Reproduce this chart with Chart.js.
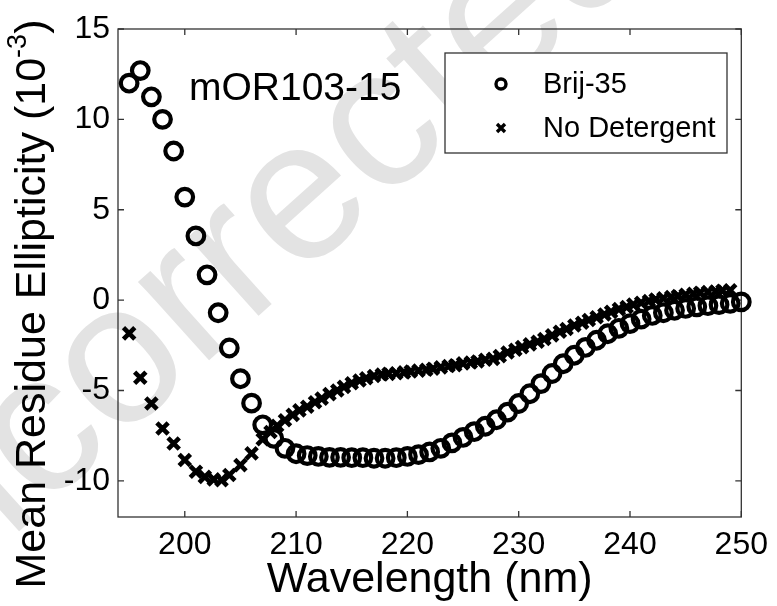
<!DOCTYPE html>
<html>
<head>
<meta charset="utf-8">
<script src="https://cdn.jsdelivr.net/npm/chart.js@4"></script>
<style>
  body { margin: 0; background: #fff; }
  #wrap { width: 777px; height: 606px; }
</style>
</head>
<body>
<div id="wrap"><canvas id="cdChart" width="777" height="606"></canvas></div>
<script>
// Brij-35 spectrum (1 nm steps)
const brijWavelength = [195, 196, 197, 198, 199, 200, 201, 202, 203, 204, 205, 206, 207, 208, 209,
    210, 211, 212, 213, 214, 215, 216, 217, 218, 219, 220, 221, 222, 223, 224, 225, 226, 227, 228, 229,
    230, 231, 232, 233, 234, 235, 236, 237, 238, 239, 240, 241, 242, 243, 244, 245, 246, 247, 248, 249, 250];
const brijValues = [12.0, 12.7, 11.25, 10.0, 8.25, 5.7, 3.55, 1.4, -0.7, -2.65, -4.35, -5.7, -6.9, -7.65, -8.2,
    -8.5, -8.6, -8.65, -8.7, -8.7, -8.72, -8.72, -8.75, -8.75, -8.72, -8.65, -8.55, -8.4, -8.2, -7.9, -7.6, -7.28, -6.98, -6.62, -6.2,
    -5.72, -5.18, -4.62, -4.06, -3.52, -3.05, -2.62, -2.22, -1.86, -1.56, -1.3, -1.05, -0.85, -0.7, -0.56, -0.46, -0.37, -0.31, -0.25, -0.18, -0.1];

// No detergent spectrum
const noDetWavelength = [195, 196, 197, 198, 199, 200, 201, 201.8, 202.6, 203.3, 204, 205, 206,
    207.0, 207.7, 208.3, 209.0, 209.7, 210.3, 211.0, 211.7, 212.3, 213.0, 213.7, 214.3, 215.0, 215.7, 216.3,
    217.0, 217.7, 218.3, 219.0, 219.7, 220.3, 221.0, 221.7, 222.3, 223.0, 223.7, 224.3, 225.0, 225.7, 226.3,
    227.0, 227.7, 228.3, 229.0, 229.7, 230.3, 231.0, 231.7, 232.3, 233.0, 233.7, 234.3, 235.0, 235.7, 236.3,
    237.0, 237.7, 238.3, 239.0, 239.7, 240.3, 241.0, 241.7, 242.3, 243.0, 243.7, 244.3, 245.0, 245.7, 246.3,
    247.0, 247.7, 248.3, 249.0];
const noDetValues = [-1.84, -4.3, -5.72, -7.1, -7.93, -8.85, -9.5, -9.78, -9.92, -9.96, -9.68, -9.13, -8.48,
    -7.7, -7.3, -6.95, -6.65, -6.35, -6.1, -5.9, -5.65, -5.45, -5.2, -5.0, -4.8, -4.6, -4.45, -4.32,
    -4.2, -4.12, -4.08, -4.05, -4.0, -3.95, -3.9, -3.85, -3.8, -3.72, -3.65, -3.6, -3.5, -3.45, -3.4,
    -3.3, -3.25, -3.1, -2.9, -2.75, -2.6, -2.45, -2.3, -2.15, -1.95, -1.75, -1.6, -1.4, -1.25, -1.1,
    -0.95, -0.8, -0.65, -0.5, -0.38, -0.25, -0.15, -0.05, 0.03, 0.1, 0.17, 0.22, 0.3, 0.35, 0.4,
    0.45, 0.48, 0.52, 0.55];

const seriesLabels = ['Brij-35', 'No Detergent'];
const xTicks = [200, 210, 220, 230, 240, 250];
const yTicks = [-10, -5, 0, 5, 10, 15];

const FONT = '"Liberation Sans", Arial, sans-serif';

function pairs(xs, ys) {
    return xs.map((x, i) => ({x: x, y: ys[i]}));
}

// faint proof watermark behind everything
const watermark = {
    id: 'watermark',
    beforeDraw(chart) {
        const ctx = chart.ctx;
        ctx.save();
        ctx.translate(418, 98);
        ctx.rotate(-42 * Math.PI / 180);
        ctx.font = '200px ' + FONT;
        ctx.fillStyle = '#e3e3e3';
        ctx.textAlign = 'center';
        ctx.textBaseline = 'middle';
        ctx.fillText('Uncorrected Proof', 0, 0);
        ctx.restore();
    }
};

// box around the plot with inward ticks on all four sides
const frame = {
    id: 'frame',
    beforeDatasetsDraw(chart) {
        const {ctx, chartArea: a, scales} = chart;
        ctx.save();
        ctx.strokeStyle = '#333';
        ctx.lineWidth = 1.3;
        ctx.strokeRect(a.left, a.top, a.right - a.left, a.bottom - a.top);
        ctx.beginPath();
        xTicks.forEach(v => {
            const px = scales.x.getPixelForValue(v);
            ctx.moveTo(px, a.bottom); ctx.lineTo(px, a.bottom - 6);
            ctx.moveTo(px, a.top); ctx.lineTo(px, a.top + 6);
        });
        yTicks.forEach(v => {
            const py = scales.y.getPixelForValue(v);
            ctx.moveTo(a.left, py); ctx.lineTo(a.left + 6, py);
            ctx.moveTo(a.right, py); ctx.lineTo(a.right - 6, py);
        });
        ctx.stroke();
        ctx.restore();
    }
};

// legend box, sample label and y title
const annotations = {
    id: 'annotations',
    afterDraw(chart) {
        const ctx = chart.ctx;
        ctx.save();

        // legend
        ctx.fillStyle = '#fff';
        ctx.fillRect(445, 53, 282, 100);
        ctx.strokeStyle = '#333';
        ctx.lineWidth = 1.3;
        ctx.strokeRect(445, 53, 282, 100);
        ctx.strokeStyle = '#000';
        ctx.lineWidth = 3.4;
        ctx.beginPath();
        ctx.arc(501, 84, 5, 0, Math.PI * 2);
        ctx.stroke();
        ctx.beginPath();
        ctx.moveTo(497, 124); ctx.lineTo(505, 132);
        ctx.moveTo(505, 124); ctx.lineTo(497, 132);
        ctx.stroke();
        ctx.fillStyle = '#000';
        ctx.font = '29px ' + FONT;
        ctx.textAlign = 'left';
        ctx.textBaseline = 'middle';
        ctx.fillText(seriesLabels[0], 543, 85);
        ctx.fillText(seriesLabels[1], 543, 129);

        // sample name
        ctx.font = '39px ' + FONT;
        ctx.fillText('mOR103-15', 189, 89);

        // y title with superscript
        ctx.translate(33, 304);
        ctx.rotate(-Math.PI / 2);
        const main = 'Mean Residue Ellipticity (10';
        const sup = '-3';
        const tail = ')';
        ctx.font = '43px ' + FONT;
        const wMain = ctx.measureText(main).width;
        const wTail = ctx.measureText(tail).width;
        ctx.font = '27px ' + FONT;
        const wSup = ctx.measureText(sup).width;
        let x = -(wMain + wSup + wTail) / 2;
        ctx.font = '43px ' + FONT;
        ctx.fillText(main, x, 0);
        x += wMain;
        ctx.font = '27px ' + FONT;
        ctx.fillText(sup, x, -14);
        x += wSup;
        ctx.font = '43px ' + FONT;
        ctx.fillText(tail, x, 0);

        ctx.restore();
    }
};

const ctx = document.getElementById('cdChart').getContext('2d');
new Chart(ctx, {
    type: 'scatter',
    data: {
        datasets: [{
            label: seriesLabels[0],
            data: pairs(brijWavelength, brijValues),
            pointStyle: 'circle',
            pointRadius: 8.3,
            pointBorderWidth: 4.2,
            borderColor: '#000',
            backgroundColor: 'rgba(0,0,0,0)',
            clip: false
        }, {
            label: seriesLabels[1],
            data: pairs(noDetWavelength, noDetValues),
            pointStyle: 'crossRot',
            pointRadius: 8,
            pointBorderWidth: 4.6,
            borderColor: '#000',
            backgroundColor: '#000',
            clip: false
        }]
    },
    options: {
        responsive: false,
        animation: false,
        layout: {padding: {left: 0, right: 30, top: 29, bottom: 0}},
        plugins: {
            legend: {display: false},
            tooltip: {enabled: false}
        },
        scales: {
            x: {
                type: 'linear',
                min: 194,
                max: 250,
                afterBuildTicks: s => { s.ticks = xTicks.map(v => ({value: v})); },
                afterFit: s => { s.height = 89; },
                grid: {display: false, drawTicks: false},
                border: {display: false},
                ticks: {
                    color: '#000',
                    padding: 9,
                    maxRotation: 0,
                    font: {family: FONT, size: 32}
                },
                title: {
                    display: true,
                    text: 'Wavelength (nm)',
                    color: '#000',
                    padding: {top: 0, bottom: 0},
                    font: {family: FONT, size: 43}
                }
            },
            y: {
                type: 'linear',
                min: -12,
                max: 15,
                afterBuildTicks: s => { s.ticks = yTicks.map(v => ({value: v})); },
                afterFit: s => { s.width = 118; },
                grid: {display: false, drawTicks: false},
                border: {display: false},
                ticks: {
                    color: '#000',
                    padding: 8,
                    font: {family: FONT, size: 32}
                }
            }
        }
    },
    plugins: [watermark, frame, annotations]
});
</script>
</body>
</html>
